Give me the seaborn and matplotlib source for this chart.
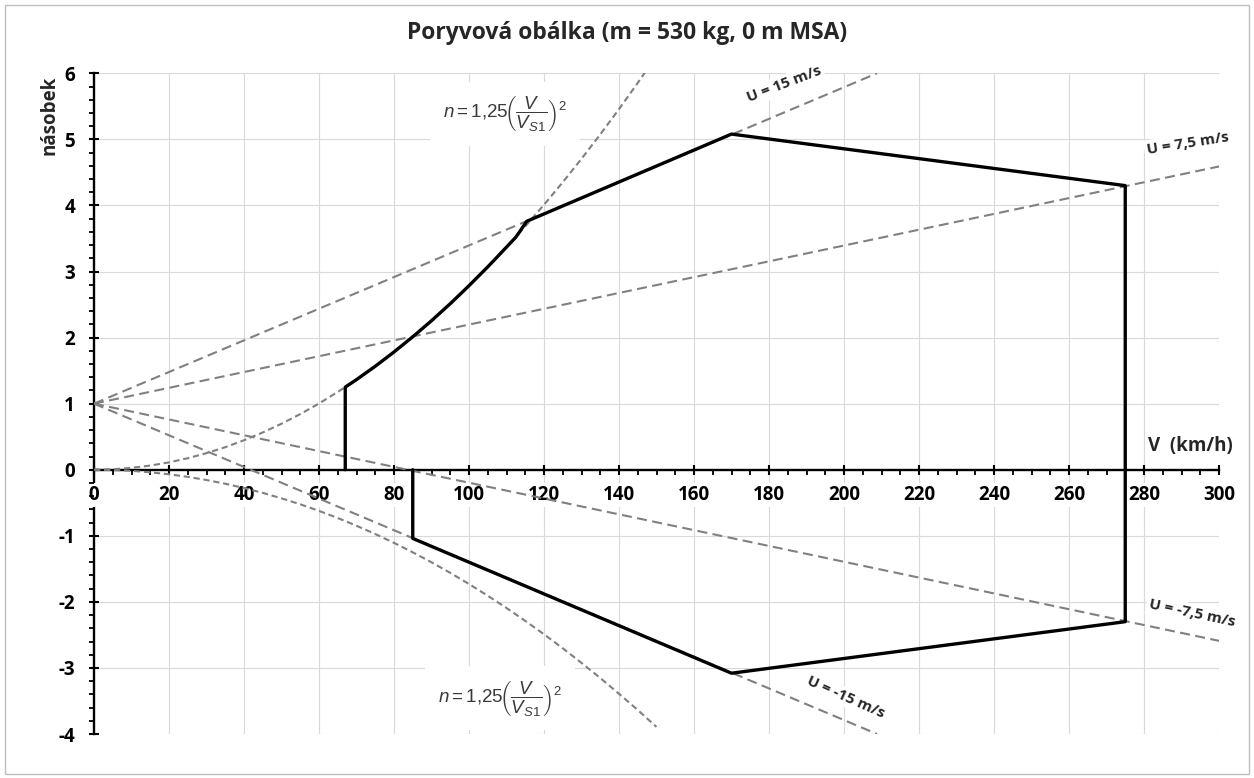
import matplotlib
matplotlib.use("Agg")
import matplotlib.pyplot as plt
from matplotlib.patches import Rectangle
from matplotlib.ticker import MultipleLocator
import seaborn as sns
import pandas as pd

# ---------------- data ----------------
title = "Poryvová obálka (m = 530 kg, 0 m MSA)"
x_label = "V  (km/h)"
y_label = "násobek"
x_ticks = list(range(0, 301, 20))
y_ticks = list(range(-4, 7))

# stall parabolas n = 1.25 (V/Vs1)^2  (positive Vs1 ~ 67 km/h, negative ~ 85 km/h)
stall_v = [0, 5, 10, 15, 20, 25, 30, 35, 40, 45, 50, 55, 60, 65, 70, 75, 80,
           85, 90, 95, 100, 105, 110, 115, 120, 125, 130, 135, 140, 145, 150]
stall_pos_n = [0, 0.007, 0.028, 0.063, 0.111, 0.174, 0.251, 0.341, 0.446,
               0.564, 0.696, 0.842, 1.002, 1.177, 1.364, 1.566, 1.782, 2.012,
               2.255, 2.513, 2.785, 3.070, 3.369, 3.683, 4.010, 4.351, 4.706,
               5.075, 5.458, 5.855, 6.265]
stall_neg_n = [0, -0.004, -0.017, -0.039, -0.069, -0.108, -0.156, -0.212,
               -0.277, -0.350, -0.433, -0.523, -0.623, -0.731, -0.848, -0.973,
               -1.107, -1.250, -1.401, -1.561, -1.730, -1.907, -2.093, -2.288,
               -2.491, -2.703, -2.924, -3.153, -3.391, -3.637, -3.893]

# gust lines, all starting at (0, 1)
gust_names = ["U = 15 m/s", "U = 7,5 m/s", "U = -7,5 m/s", "U = -15 m/s"]
gust_v = [[0, 208.8], [0, 300], [0, 300], [0, 208.8]]
gust_n = [[1, 6.0], [1, 4.59], [1, -2.59], [1, -4.0]]

# gust envelope (solid)
env_v = [67, 67, 70, 75, 80, 85, 90, 95, 100, 105, 110, 112.5, 115.4,
         170, 275, 275, 170, 85, 85]
env_n = [0, 1.25, 1.364, 1.566, 1.782, 2.012, 2.255, 2.513, 2.785, 3.070,
         3.369, 3.52, 3.76, 5.08, 4.30, -2.30, -3.08, -1.04, 0]

formula = r"$n = 1{,}25\!\left(\dfrac{V}{V_{S1}}\right)^{2}$"

# ---------------- style ----------------
sns.set_theme(style="white")
FONT = ["Open Sans", "DejaVu Sans"]
plt.rcParams["font.family"] = FONT
plt.rcParams["mathtext.fontset"] = "custom"
plt.rcParams["mathtext.rm"] = "Liberation Sans"
plt.rcParams["mathtext.it"] = "Liberation Sans:italic"
plt.rcParams["mathtext.bf"] = "Liberation Sans:bold"

W, H = 1254, 778
fig = plt.figure(figsize=(W / 100, H / 100), dpi=100)
fig.patch.set_facecolor("white")
ax = fig.add_axes([94 / W, 1 - 734 / H, (1219 - 94) / W, (734 - 73.3) / H])
ax.set_facecolor("white")

gray = "#808080"
# stall parabolas
sns.lineplot(x=stall_v, y=stall_pos_n, ax=ax, color=gray, lw=1.5,
             linestyle=(0, (3.0, 1.8)), sort=False, estimator=None, zorder=3)
sns.lineplot(x=stall_v, y=stall_neg_n, ax=ax, color=gray, lw=1.5,
             linestyle=(0, (3.0, 1.8)), sort=False, estimator=None, zorder=3)
# gust lines
for gv, gn in zip(gust_v, gust_n):
    sns.lineplot(x=gv, y=gn, ax=ax, color=gray, lw=1.5,
                 linestyle=(0, (4.8, 2.6)), sort=False, estimator=None, zorder=3)
# envelope
sns.lineplot(x=env_v, y=env_n, ax=ax, color="black", lw=2.4,
             sort=False, estimator=None, zorder=4)

ax.set_xlim(x_ticks[0], x_ticks[-1])
ax.set_ylim(y_ticks[0], y_ticks[-1])
ax.set_xlabel("")
ax.set_ylabel("")

# axes through origin
for s in ["top", "right"]:
    ax.spines[s].set_visible(False)
ax.spines["left"].set_position(("data", 0))
ax.spines["bottom"].set_position(("data", 0))
for s in ["left", "bottom"]:
    ax.spines[s].set_color("black")
    ax.spines[s].set_linewidth(1.7)

ax.set_xticks(x_ticks)
ax.set_yticks(y_ticks)
ax.set_xticklabels([str(v) for v in x_ticks])
ax.set_yticklabels([str(v) for v in y_ticks])
ax.xaxis.set_minor_locator(MultipleLocator(5))
ax.yaxis.set_minor_locator(MultipleLocator(0.2))
ax.tick_params(which="major", direction="inout", length=7.5, width=1.5,
               color="black", labelsize=13.5, labelcolor="black")
ax.tick_params(axis="x", which="major", pad=7)
ax.tick_params(axis="y", which="major", pad=10)
ax.tick_params(which="minor", direction="out", length=3.5, width=1.3,
               color="black")
ax.tick_params(axis="x", which="both", bottom=True)
ax.tick_params(axis="y", which="both", left=True)
for lab in ax.get_xticklabels() + ax.get_yticklabels():
    lab.set_fontweight("bold")
for lab in ax.get_xticklabels():
    lab.set_bbox(dict(facecolor="white", edgecolor="none", pad=1.5))

ax.grid(True, which="major", color="#d9d9d9", lw=0.8)
ax.set_axisbelow(False)
ax.xaxis.get_major_ticks()[0].gridline.set_visible(False)
ax.yaxis.get_major_ticks()[y_ticks.index(0)].gridline.set_visible(False)


def px(xp, yp):
    return (xp - 94) / 3.75, (469.3 - yp) / 66.1


box = dict(facecolor="white", edgecolor="none", pad=2)
label_pos = [(784, 84, 21), (1188, 143, 9), (1192, 613, -12), (846, 697, -24)]
for name, (xp, yp, rot) in zip(gust_names, label_pos):
    vx, vy = px(xp, yp)
    ax.text(vx, vy, name, fontsize=11, fontweight="bold", rotation=rot,
            ha="center", va="center", rotation_mode="anchor",
            bbox=box, zorder=6, clip_on=False)

for (xp, yp) in [(505, 113), (500, 698)]:
    vx, vy = px(xp, yp)
    ax.text(vx, vy, formula, fontsize=13.5, color="#3a3a3a", ha="center",
            va="center", zorder=6,
            bbox=dict(facecolor="white", edgecolor="none", pad=9))

vx, vy = px(1190, 446)
ax.text(vx, vy, x_label, fontsize=13.5, fontweight="bold", ha="center",
        va="center", zorder=6)

fig.text(50 / W, 1 - 115 / H, y_label, rotation=90, fontsize=13.5,
         fontweight="bold", ha="center", va="center")
fig.text(0.5, 1 - 33 / H, title, fontsize=16.5, fontweight="bold",
         ha="center", va="center")

fig.add_artist(Rectangle((5 / W, 4 / H), 1244 / W, 769 / H,
                         transform=fig.transFigure, fill=False,
                         edgecolor="#bfbfbf", lw=1))

fig.savefig("out.png", dpi=100, facecolor="white")
